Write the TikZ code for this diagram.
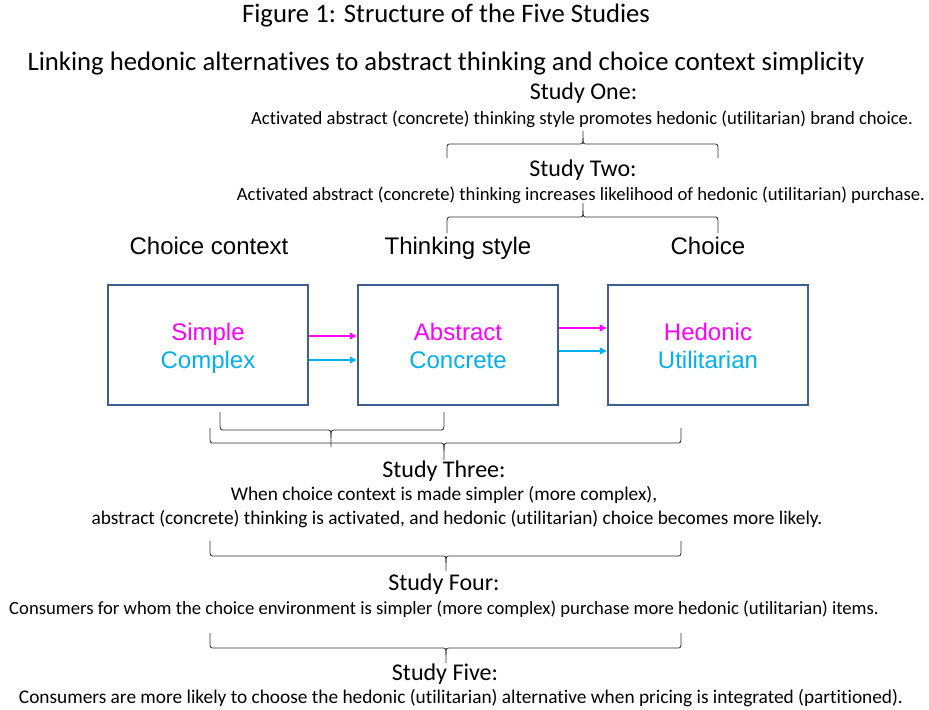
\documentclass[tikz,border=0pt]{standalone}
\usepackage{fontspec}
\setmainfont{Carlito}[Ligatures={NoCommon}]
\newfontfamily\arialf{Liberation Sans}
\usetikzlibrary{arrows.meta,calc}
\definecolor{boxblue}{HTML}{3F5F8C}
\definecolor{magc}{HTML}{FF00FF}
\definecolor{cyanc}{HTML}{00B0F0}
\definecolor{bracec}{HTML}{303030}
\tikzset{
  stagebox/.style={draw=boxblue, line width=2.2pt, minimum width=150pt, minimum height=90pt, inner sep=0pt},
  boxlabel/.style={font=\arialf\fontsize{18}{21}\selectfont, inner sep=0pt, anchor=base},
  header/.style={font=\arialf\fontsize{18}{21}\selectfont, inner sep=0pt, anchor=base},
  studyhead/.style={font=\fontsize{18}{22}\selectfont, inner sep=0pt, anchor=base},
  studytext/.style={font=\fontsize{14}{17}\selectfont, inner sep=0pt, anchor=base},
  studytextw/.style={font=\fontsize{14.5}{17}\selectfont, inner sep=0pt, anchor=base},
  titletext/.style={font=\fontsize{20}{24}\selectfont, inner sep=0pt, anchor=base},
  magarrow/.style={draw=magc, line width=0.9pt, -{Triangle[length=5pt,width=5pt]}},
  cyanarrow/.style={draw=cyanc, line width=0.9pt, -{Triangle[length=5pt,width=5pt]}},
  bracepath/.style={draw=bracec, line width=0.6pt},
}
% #1 left x, #2 right x, #3 tip x, #4 end y, #5 bar y, #6 tip y
\newcommand\studybrace[6]{%
  \draw[bracepath] (#1,#4) -- (#1,{#5+(#4-#5)*0.45}) .. controls (#1,#5) .. ({#1+5},#5)
    -- ({#3-5},#5) .. controls (#3,#5) .. (#3,{#5+(#6-#5)*0.45}) -- (#3,#6);
  \draw[bracepath] (#3,{#5+(#6-#5)*0.45}) .. controls (#3,#5) .. ({#3+5},#5)
    -- ({#2-5},#5) .. controls (#2,#5) .. (#2,{#5+(#4-#5)*0.45}) -- (#2,#4);
}
\begin{document}
\begin{tikzpicture}[x=0.75pt,y=-0.75pt]
\useasboundingbox (0,0) rectangle (929,710);
% titles
\node[titletext] (title) at (446,23) {Figure 1: Structure of the Five Studies};
\node[titletext] (subtitle) at (446,71) {Linking hedonic alternatives to abstract thinking and choice context simplicity};
% study one / two
\node[studyhead] (s1h) at (583.5,100) {Study One:};
\node[studytext] (s1t) at (582,124) {Activated abstract (concrete) thinking style promotes hedonic (utilitarian) brand choice.};
\node[studyhead] (s2h) at (583,176) {Study Two:};
\node[studytext] (s2t) at (581,200) {Activated abstract (concrete) thinking increases likelihood of hedonic (utilitarian) purchase.};
\studybrace{447}{718}{583}{158}{144}{131}
\studybrace{447}{718}{583}{233}{217}{203}
% headers
\node[header] (h1) at (209,254) {Choice context};
\node[header] (h2) at (458,254) {Thinking style};
\node[header] (h3) at (708,254) {Choice};
% boxes
\node[stagebox] (b1) at (208,345) {};
\node[stagebox] (b2) at (458,345) {};
\node[stagebox] (b3) at (708,345) {};
\node[boxlabel, text=magc] (l1a) at ($(b1.center)+(0,-5)$) {Simple};
\node[boxlabel, text=cyanc] (l1b) at ($(b1.center)+(0,23)$) {Complex};
\node[boxlabel, text=magc] (l2a) at ($(b2.center)+(0,-5)$) {Abstract};
\node[boxlabel, text=cyanc] (l2b) at ($(b2.center)+(0,23)$) {Concrete};
\node[boxlabel, text=magc] (l3a) at ($(b3.center)+(0,-5)$) {Hedonic};
\node[boxlabel, text=cyanc] (l3b) at ($(b3.center)+(0,23)$) {Utilitarian};
\draw[magarrow] ($(b1.east)+(0,-9)$) -- ($(b2.west)+(0,-9)$);
\draw[cyanarrow] ($(b1.east)+(0,15)$) -- ($(b2.west)+(0,15)$);
\draw[magarrow] ($(b2.east)+(0,-17)$) -- ($(b3.west)+(0,-17)$);
\draw[cyanarrow] ($(b2.east)+(0,6)$) -- ($(b3.west)+(0,6)$);
% study three
\studybrace{220}{444}{331}{412}{430}{447}
\studybrace{210}{681}{444}{428}{443}{460}
\node[studyhead] (s3h) at (444,477) {Study Three:};
\node[studytextw] (s3a) at (444,500) {When choice context is made simpler (more complex),};
\node[studytextw] (s3b) at (457,524) {abstract (concrete) thinking is activated, and hedonic (utilitarian) choice becomes more likely.};
% study four
\studybrace{210}{681}{446}{541}{556}{571}
\node[studyhead] (s4h) at (444,590) {Study Four:};
\node[studytext] (s4t) at (444,614) {Consumers for whom the choice environment is simpler (more complex) purchase more hedonic (utilitarian) items.};
% study five
\studybrace{210}{681}{446}{633}{648}{663}
\node[studyhead] (s5h) at (445,680) {Study Five:};
\node[studytextw] (s5t) at (461,703) {Consumers are more likely to choose the hedonic (utilitarian) alternative when pricing is integrated (partitioned).};
\end{tikzpicture}
\end{document}
